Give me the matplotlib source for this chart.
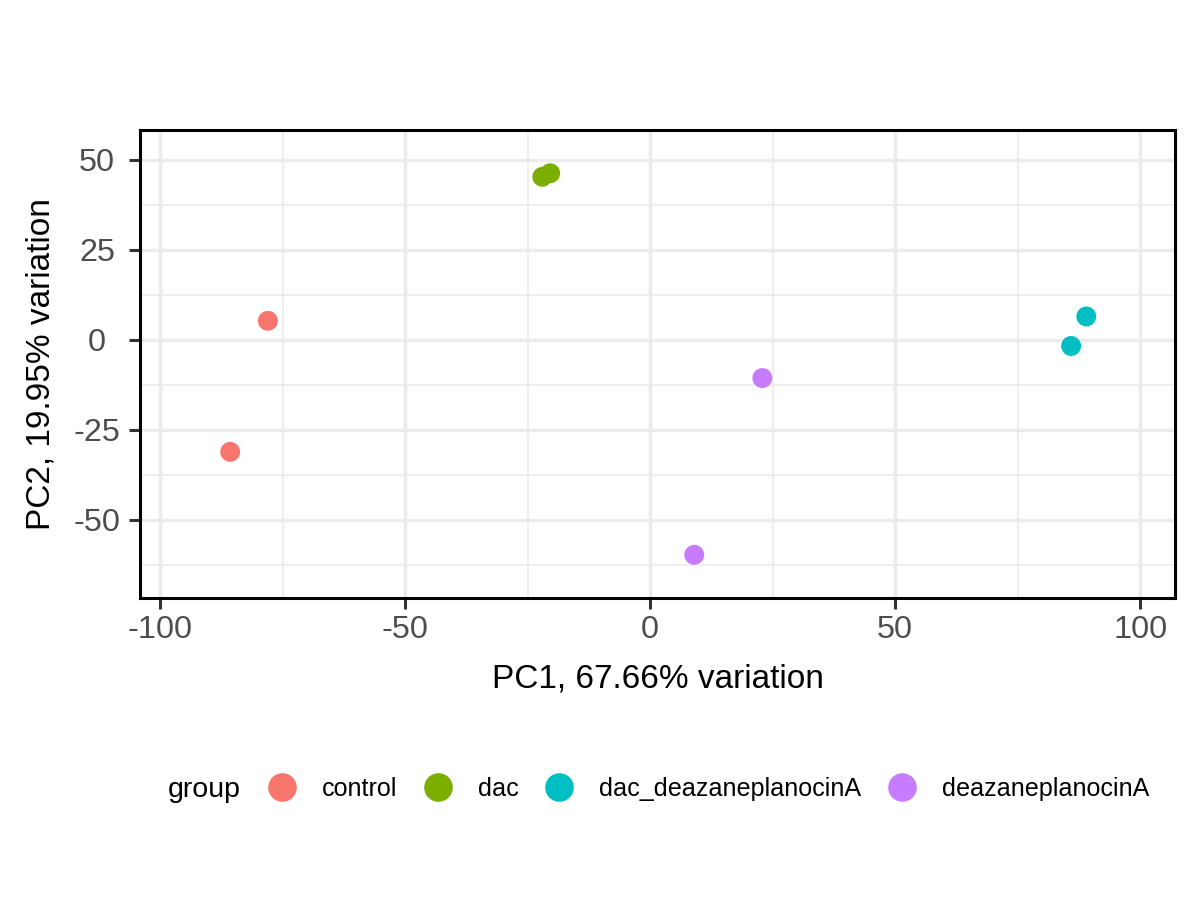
import matplotlib
matplotlib.use('Agg')
import matplotlib.pyplot as plt
from matplotlib.lines import Line2D
import numpy as np

plt.rcParams['font.family'] = ['Liberation Sans', 'DejaVu Sans']
plt.rcParams['axes.unicode_minus'] = False

# PCA scores
groups = ['control', 'dac', 'dac_deazaneplanocinA', 'deazaneplanocinA']
colors = ['#F8766D', '#7CAE00', '#00BFC4', '#C77CFF']
pc1 = {
    'control': [-78.0, -85.7],
    'dac': [-22.0, -20.4],
    'dac_deazaneplanocinA': [89.0, 85.9],
    'deazaneplanocinA': [22.9, 9.0],
}
pc2 = {
    'control': [5.3, -31.1],
    'dac': [45.3, 46.3],
    'dac_deazaneplanocinA': [6.5, -1.7],
    'deazaneplanocinA': [-10.6, -59.7],
}
x_ticks = [-100, -50, 0, 50, 100]
y_ticks = [-50, -25, 0, 25, 50]
x_minor = [-75, -25, 25, 75]
y_minor = [-62.5, -37.5, -12.5, 12.5, 37.5]
x_title = 'PC1, 67.66% variation'
y_title = 'PC2, 19.95% variation'

fig = plt.figure(figsize=(12, 9), dpi=100)
ax = fig.add_axes([140/1200, 1-598/900, 1035/1200, 468/900])

for g, c in zip(groups, colors):
    ax.scatter(pc1[g], pc2[g], s=205, color=c, edgecolors='none', zorder=3)

ax.set_xlim(-104.1, 107.1)
ax.set_ylim(-71.7, 58.3)
ax.set_xticks(x_ticks)
ax.set_yticks(y_ticks)
ax.set_xticks(x_minor, minor=True)
ax.set_yticks(y_minor, minor=True)
ax.grid(True, which='major', color='#EBEBEB', linewidth=2.4, zorder=0)
ax.grid(True, which='minor', color='#EBEBEB', linewidth=1.2, zorder=0)
ax.set_axisbelow(True)

for sp in ax.spines.values():
    sp.set_linewidth(2.2)
    sp.set_color('black')

ax.tick_params(which='major', length=8, width=2.2, color='#333333',
               labelsize=23.3, labelcolor='#4D4D4D')
ax.tick_params(which='minor', length=0)
ax.tick_params(axis='x', pad=4)
ax.tick_params(axis='y', pad=23)
for lab in ax.get_yticklabels():
    lab.set_ha('center')

ax.set_xlabel(x_title, fontsize=24, color='black')
ax.xaxis.set_label_coords(0.5, (598-688)/468)
ax.xaxis.label.set_va('baseline')
ax.set_ylabel(y_title, fontsize=24, color='black')
ax.yaxis.set_label_coords((41-140)/1035, 0.5)
ax.yaxis.label.set_va('center')

handles = [Line2D([0], [0], marker='o', linestyle='none', markersize=20.6,
                  markerfacecolor=c, markeredgecolor='none') for c in colors]
fig.text(168/1200, 1-797/900, 'group', fontsize=20.5, va='baseline', ha='left')
fig.legend(handles, groups, ncol=4, loc='center left',
           bbox_to_anchor=(267/1200, 1-789/900), frameon=False,
           fontsize=18.1, handlelength=1.2, handletextpad=1.0,
           columnspacing=1.0, borderpad=0, borderaxespad=0)

fig.savefig('out.png', dpi=100)
